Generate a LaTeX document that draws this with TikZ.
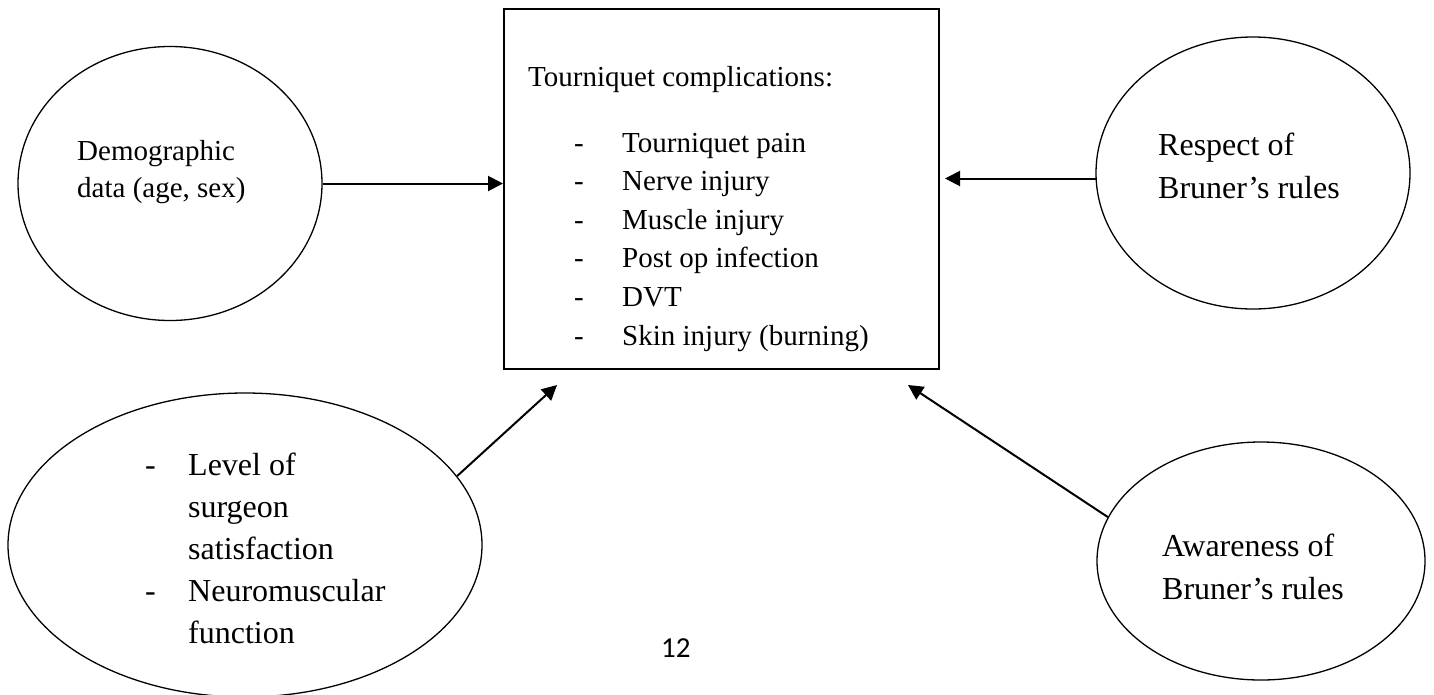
\documentclass[tikz,border=0pt]{standalone}
\usepackage{fontspec}
\setmainfont{Liberation Serif}
\newfontfamily\pagefont{Carlito}
\usetikzlibrary{shapes.geometric,arrows.meta}
\begin{document}
\begin{tikzpicture}[x=1pt,y=-1pt,
  oval/.style={draw,ellipse,line width=1.3pt,inner sep=0pt},
  boxst/.style={draw,rectangle,line width=2pt,inner sep=0pt},
  tx/.style={anchor=base west,inner sep=0pt,font=\fontsize{29}{35}\selectfont},
  tb/.style={anchor=base west,inner sep=0pt,font=\fontsize{32}{38}\selectfont},
  conn/.style={line width=2pt,-{Triangle[length=15pt,width=15pt]}}]
\useasboundingbox (0,0) rectangle (1434,694);
% shapes
\node[oval,minimum width=304pt,minimum height=274pt] (demo) at (170,183.5) {};
\node[boxst,minimum width=435pt,minimum height=360pt] (box) at (721.5,189) {};
\node[oval,minimum width=314pt,minimum height=272pt] (respect) at (1253,173) {};
\node[oval,minimum width=474pt,minimum height=304pt] (level) at (245,545) {};
\node[oval,minimum width=328pt,minimum height=238pt] (aware) at (1261,561) {};
% texts
\node[tx] (d1) at (77,160) {Demographic};
\node[tx] (d2) at (77,197) {data (age, sex)};
\node[tx] (t0) at (528,86) {Tourniquet complications:};
\node[tx] (h1) at (574,152) {-};
\node[tx] (i1) at (622,152) {Tourniquet pain};
\node[tx] (h2) at (574,190.6) {-};
\node[tx] (i2) at (622,190.6) {Nerve injury};
\node[tx] (h3) at (574,229.2) {-};
\node[tx] (i3) at (622,229.2) {Muscle injury};
\node[tx] (h4) at (574,267.8) {-};
\node[tx] (i4) at (622,267.8) {Post op infection};
\node[tx] (h5) at (574,306.4) {-};
\node[tx] (i5) at (622,306.4) {DVT};
\node[tx] (h6) at (574,345) {-};
\node[tx] (i6) at (622,345) {Skin injury (burning)};
\node[tb] (r1) at (1158,155) {Respect of};
\node[tb] (r2) at (1158,198) {Bruner’s rules};
\node[tb] (a1) at (1162,556) {Awareness of};
\node[tb] (a2) at (1162,599) {Bruner’s rules};
\node[tb] (lh1) at (145,475) {-};
\node[tb] (l1) at (188,475) {Level of};
\node[tb] (l2) at (188,517) {surgeon};
\node[tb] (l3) at (188,559) {satisfaction};
\node[tb] (lh2) at (145,601) {-};
\node[tb] (l4) at (188,601) {Neuromuscular};
\node[tb] (l5) at (188,643) {function};
\node[anchor=base west,inner sep=0pt,font=\pagefont\fontsize{29}{35}\selectfont] (pg) at (661,657) {12};
% connector ends
\coordinate (rt) at (945,179);
\coordinate (blt) at (557,385);
\coordinate (brt) at (908,385);
% connectors
\draw[conn] (demo.east) -- (box.west |- demo.east);
\draw[conn] (respect.182) -- (rt |- respect.182);
\draw[conn] (level.18.4) -- (blt);
\draw[conn] (aware.164) -- (brt);
\end{tikzpicture}
\end{document}
